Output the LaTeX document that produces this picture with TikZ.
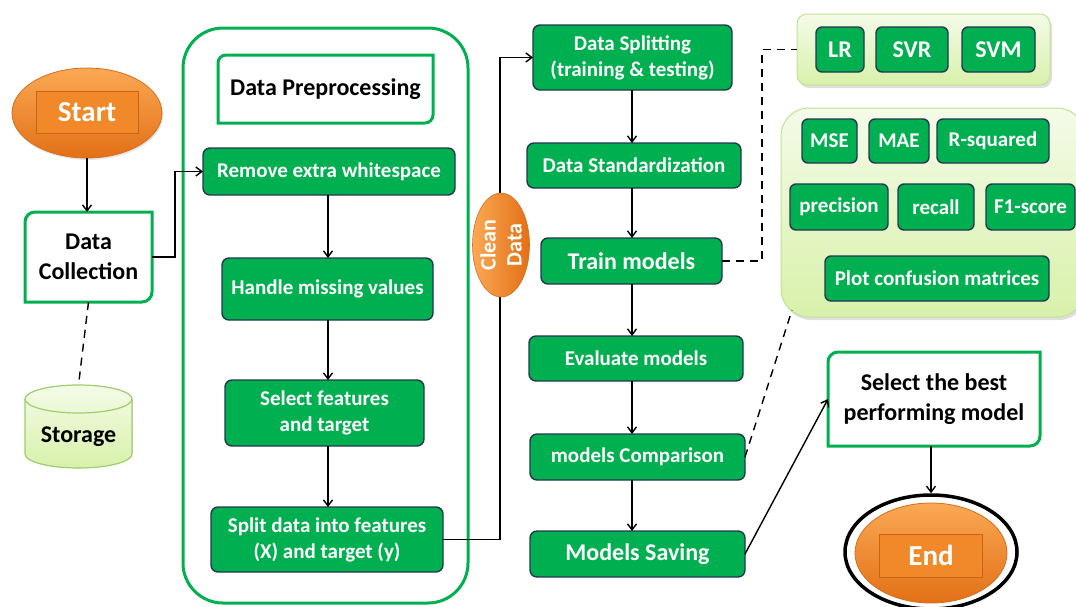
\documentclass[tikz,border=0pt]{standalone}
\usepackage{fontspec}
\setmainfont{Carlito}
\usetikzlibrary{arrows.meta,shapes.geometric,shadows}

\definecolor{procgreen}{RGB}{0,176,80}
\definecolor{procedge}{RGB}{34,56,80}
\definecolor{framegreen}{RGB}{0,176,80}
\definecolor{lgtop}{RGB}{244,251,232}
\definecolor{lgbot}{RGB}{216,241,170}
\definecolor{lgedge}{RGB}{196,224,150}
\definecolor{ortop}{RGB}{251,168,84}
\definecolor{orbot}{RGB}{226,112,22}
\definecolor{oredge}{RGB}{214,110,30}
\definecolor{orrect}{RGB}{241,136,42}
\definecolor{orrectedge}{RGB}{200,100,20}
\definecolor{stedge}{RGB}{160,205,110}

% draws a frame whose top-left and bottom-right corners are rounded
\newcommand\diagframe[2]{%
  \draw[gline] ([xshift=#2]#1.north west) -- (#1.north east)
    -- ([yshift=#2]#1.south east) arc[start angle=0,end angle=-90,radius=#2]
    -- (#1.south west) -- ([yshift=-#2]#1.north west)
    arc[start angle=180,end angle=90,radius=#2] -- cycle;}

\begin{document}
\begin{tikzpicture}[x=1pt,y=1pt,
  f21/.style={font=\bfseries\fontsize{21}{26}\selectfont},
  f24/.style={font=\bfseries\fontsize{24}{30}\selectfont},
  proc/.style={draw=procedge, line width=1.4pt, fill=procgreen, text=white,
    rounded corners=7pt, align=center, inner sep=0pt, outer sep=0pt, f21},
  wbox/.style={draw=none, align=center, inner sep=0pt, outer sep=0pt, text=black, f24},
  gline/.style={draw=framegreen, line width=3pt},
  lgbox/.style={draw=lgedge, line width=1pt, top color=lgtop, bottom color=lgbot,
    inner sep=0pt, outer sep=0pt,
    drop shadow={opacity=0.25, shadow xshift=2pt, shadow yshift=-3pt}},
  conn/.style={draw=black, line width=1.4pt},
  arr/.style={conn, -{Straight Barb[length=6pt,width=9pt]}},
  dashline/.style={conn, dash pattern=on 8pt off 6pt},
  orfill/.style={top color=ortop, bottom color=orbot, draw=oredge, line width=0.8pt},
  orrect/.style={fill=orrect, draw=orrectedge, line width=1pt, text=white,
    inner sep=0pt, outer sep=0pt, font=\bfseries\fontsize{29}{34}\selectfont}
]
\useasboundingbox (0,0) rectangle (1076,-606);

% ---------- start / collection / storage ----------
\node[ellipse, orfill, minimum width=150, minimum height=90, inner sep=0pt,
  drop shadow={opacity=0.2, shadow xshift=1pt, shadow yshift=-2pt}] (start) at (87,-113) {};
\node[orrect, minimum width=102, minimum height=42] (startlbl) at (87,-112) {Start};

\node[wbox, minimum width=127, minimum height=90] (dc) at (88.5,-257) {Data\\Collection};
\diagframe{dc}{10pt}

\fill[top color=lgtop, bottom color=lgbot] (25,-399) -- (25,-454)
  arc[start angle=180,end angle=360,x radius=53.5,y radius=14] -- (132,-399)
  arc[start angle=0,end angle=180,x radius=53.5,y radius=14] -- cycle;
\draw[stedge, line width=1.2pt] (25,-399) -- (25,-454)
  arc[start angle=180,end angle=360,x radius=53.5,y radius=14] -- (132,-399)
  arc[start angle=0,end angle=180,x radius=53.5,y radius=14] -- cycle;
\draw[stedge, line width=1.2pt] (25,-399) arc[start angle=180,end angle=360,x radius=53.5,y radius=14];
\coordinate (stortop) at (78.5,-385);
\node[wbox] (storage) at (78.5,-437) {Storage};

% ---------- preprocessing container ----------
\node[draw=framegreen, line width=3pt, rounded corners=40pt, minimum width=285,
  minimum height=575, inner sep=0pt] (prep) at (325.5,-315.5) {};
\node[wbox, minimum width=215, minimum height=68] (prephead) at (325.5,-89) {Data Preprocessing};
\diagframe{prephead}{8pt}

\node[proc, minimum width=252, minimum height=47] (remove) at (329,-171.5) {Remove extra whitespace};
\node[proc, minimum width=211, minimum height=62] (handle) at (327.5,-289) {Handle missing values};
\node[proc, minimum width=199, minimum height=66] (select) at (324.5,-413) {Select features\\and target};
\node[proc, minimum width=232, minimum height=65] (split) at (327,-539.5) {Split data into features\\(X) and target (y)};

\coordinate (colA) at (328,0);
\coordinate (busA) at (175,0);
\coordinate (busB) at (500,0);
\coordinate (colB) at (632,0);
\coordinate (busC) at (762,0);

\draw[arr] (start.south) -- (start.south |- dc.north);
\draw[arr] (dc.east) -- (dc.east -| busA) -- (busA |- remove.west) -- (remove.west);
\draw[dashline] (dc.south) -- (stortop);
\draw[arr] (remove.south -| colA) -- (handle.north -| colA);
\draw[arr] (handle.south -| colA) -- (select.north -| colA);
\draw[arr] (select.south -| colA) -- (split.north -| colA);

% ---------- modelling column ----------
\node[proc, minimum width=199, minimum height=65] (dsplit) at (632.5,-57.5) {Data Splitting\\(training \& testing)};
\node[proc, minimum width=214, minimum height=45] (dstd) at (634,-165.5) {Data Standardization};
\node[proc, f24, minimum width=181, minimum height=46] (train) at (631.5,-261) {Train models};
\node[proc, minimum width=214, minimum height=45] (evalm) at (636,-358.5) {Evaluate models};
\node[proc, minimum width=215, minimum height=46] (compare) at (637.5,-457) {models Comparison};
\node[proc, f24, minimum width=215, minimum height=46] (saving) at (637.5,-554) {Models Saving};

\draw[arr] (split.east) -- (split.east -| busB) -- (busB |- dsplit.west) -- (dsplit.west);

\node[ellipse, minimum width=57, minimum height=104, inner sep=0pt,
  left color=ortop, right color=orbot, draw=oredge, line width=0.6pt] (clean) at (501,-245) {};
\node[rotate=90, text=white, align=center, inner sep=0pt,
  font=\bfseries\fontsize{22}{26}\selectfont] (cleantxt) at (clean) {Clean\\Data};

\draw[arr] (dsplit.south -| colB) -- (dstd.north -| colB);
\draw[arr] (dstd.south -| colB) -- (train.north -| colB);
\draw[arr] (train.south -| colB) -- (evalm.north -| colB);
\draw[arr] (evalm.south -| colB) -- (compare.north -| colB);
\draw[arr] (compare.south -| colB) -- (saving.north -| colB);

% ---------- model group ----------
\node[lgbox, rounded corners=10pt, minimum width=253, minimum height=71] (models) at (923.5,-49.5) {};
\node[proc, f24, rounded corners=6pt, minimum width=48, minimum height=45] (lr) at (840,-49.5) {LR};
\node[proc, f24, rounded corners=6pt, minimum width=72, minimum height=45] (svr) at (912,-49.5) {SVR};
\node[proc, f24, rounded corners=6pt, minimum width=73, minimum height=45] (svm) at (998.5,-49.5) {SVM};

\draw[dashline] (train.east) -- (train.east -| busC) -- (busC |- models.west) -- (models.west);

% ---------- metrics group ----------
\node[lgbox, rounded corners=28pt, minimum width=304, minimum height=209] (metrics) at (933,-212.5) {};
\node[proc, rounded corners=6pt, minimum width=55, minimum height=44] (mse) at (829.5,-141) {MSE};
\node[proc, rounded corners=6pt, minimum width=60, minimum height=44] (mae) at (899,-141) {MAE};
\node[proc, rounded corners=6pt, minimum width=112, minimum height=44] (rsq) at (993,-141) {R-squared};
\node[proc, rounded corners=6pt, minimum width=98, minimum height=46] (prec) at (839,-207) {precision};
\node[proc, rounded corners=6pt, minimum width=76, minimum height=46] (rec) at (936,-207) {recall};
\node[proc, rounded corners=6pt, minimum width=89, minimum height=46] (fone) at (1030.5,-207) {F1-score};
\node[proc, rounded corners=6pt, minimum width=224, minimum height=45] (conf) at (937,-278.5) {Plot confusion matrices};

\coordinate (metricshook) at ([xshift=11pt,yshift=7pt]metrics.south west);
\draw[dashline] (compare.east) -- (metricshook);

% ---------- final selection ----------
\node[wbox, minimum width=212, minimum height=94] (best) at (934,-399) {Select the best\\performing model};
\diagframe{best}{10pt}
\draw[arr] (saving.east) -- (best.west);

\node[ellipse, draw=black, line width=3.5pt, fill=white, minimum width=172,
  minimum height=114, inner sep=0pt] (endouter) at (931,-552) {};
\node[ellipse, orfill, minimum width=152, minimum height=100, inner sep=0pt] (endin) at (931,-553) {};
\node[orrect, minimum width=103, minimum height=43] (endlbl) at (931,-555.5) {End};
\draw[arr] (endouter.north |- best.south) -- (endouter.north);

\end{tikzpicture}
\end{document}
